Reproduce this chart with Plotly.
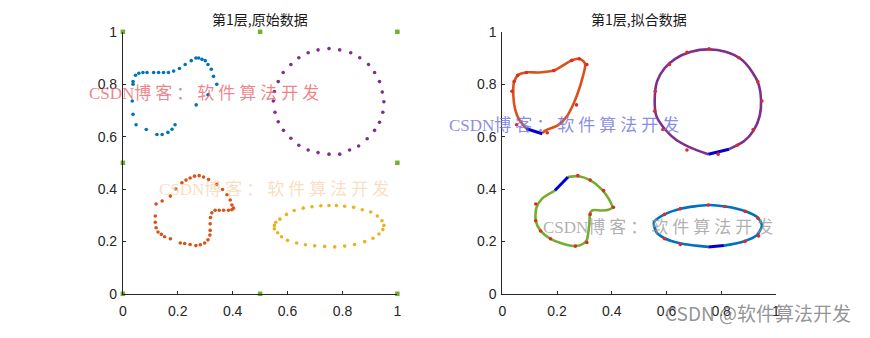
import plotly.graph_objects as go

W, H = 870, 338

# ---------------- data: left panel (raw points) ----------------
blue_x = [0.037, 0.037, 0.034, 0.037, 0.048, 0.085, 0.124, 0.143, 0.164, 0.179, 0.190,
          0.046, 0.058, 0.073, 0.088, 0.112, 0.130, 0.148, 0.166, 0.185, 0.206, 0.227,
          0.249, 0.266, 0.276, 0.288, 0.300, 0.310, 0.322, 0.330, 0.342, 0.310, 0.267]
blue_y = [0.810, 0.800, 0.736, 0.685, 0.645, 0.627, 0.608, 0.608, 0.616, 0.628, 0.645,
          0.834, 0.842, 0.845, 0.845, 0.845, 0.845, 0.845, 0.845, 0.850, 0.860, 0.875,
          0.890, 0.900, 0.900, 0.895, 0.890, 0.875, 0.857, 0.830, 0.800, 0.760, 0.721]

purple_x = [0.751, 0.790, 0.830, 0.863, 0.895, 0.917, 0.935, 0.945, 0.951, 0.947, 0.935,
            0.917, 0.890, 0.859, 0.826, 0.790, 0.751, 0.711, 0.675, 0.641, 0.612, 0.585,
            0.566, 0.554, 0.548, 0.552, 0.566, 0.584, 0.612, 0.641, 0.675, 0.711]
purple_y = [0.936, 0.931, 0.920, 0.901, 0.875, 0.845, 0.810, 0.770, 0.733, 0.693, 0.655,
            0.624, 0.592, 0.564, 0.549, 0.533, 0.533, 0.539, 0.549, 0.567, 0.594, 0.624,
            0.657, 0.693, 0.736, 0.772, 0.810, 0.845, 0.875, 0.901, 0.920, 0.931]

orange_x = [0.215, 0.230, 0.245, 0.261, 0.278, 0.294, 0.312, 0.342, 0.363, 0.379, 0.391,
            0.397, 0.403, 0.397, 0.385, 0.367, 0.351, 0.336, 0.324, 0.319, 0.318, 0.318,
            0.317, 0.310, 0.298, 0.282, 0.266, 0.245, 0.225, 0.209, 0.173, 0.152, 0.140,
            0.128, 0.121, 0.118, 0.118, 0.121, 0.143, 0.173, 0.193]
orange_y = [0.424, 0.434, 0.442, 0.449, 0.451, 0.446, 0.436, 0.418, 0.398, 0.378, 0.358,
            0.339, 0.327, 0.321, 0.319, 0.319, 0.319, 0.319, 0.309, 0.291, 0.267, 0.242,
            0.224, 0.206, 0.194, 0.187, 0.184, 0.188, 0.192, 0.194, 0.210, 0.218, 0.227,
            0.236, 0.252, 0.273, 0.297, 0.343, 0.354, 0.373, 0.400]

yellow_x = [0.552, 0.552, 0.564, 0.578, 0.600, 0.633, 0.665, 0.699, 0.735, 0.772, 0.808,
            0.844, 0.881, 0.911, 0.933, 0.947, 0.951, 0.944, 0.927, 0.903, 0.872, 0.841,
            0.808, 0.778, 0.751, 0.721, 0.689, 0.657, 0.624, 0.596, 0.572, 0.557]
yellow_y = [0.261, 0.248, 0.233, 0.218, 0.204, 0.194, 0.187, 0.183, 0.181, 0.179, 0.182,
            0.188, 0.199, 0.212, 0.228, 0.245, 0.261, 0.279, 0.297, 0.312, 0.321, 0.330,
            0.334, 0.337, 0.337, 0.336, 0.332, 0.327, 0.318, 0.303, 0.285, 0.273]

green_x = [0, 0, 0, 0.5, 0.5, 1, 1, 1]
green_y = [0, 0.5, 1, 0, 1, 0, 0.5, 1]

# ---------------- data: right panel (fitted curves) ----------------
fit_orange_x = [0.088, 0.062, 0.047, 0.040, 0.043, 0.059, 0.086, 0.134, 0.188, 0.219, 0.253,
                0.279, 0.297, 0.303, 0.293, 0.279, 0.261, 0.237, 0.201, 0.158, 0.146]
fit_orange_y = [0.630, 0.664, 0.703, 0.758, 0.810, 0.836, 0.845, 0.845, 0.852, 0.870, 0.891,
                0.897, 0.887, 0.873, 0.824, 0.776, 0.727, 0.679, 0.642, 0.624, 0.614]
gap_orange_x = [0.088, 0.146]
gap_orange_y = [0.630, 0.611]
pts_orange_x = [0.035, 0.043, 0.056, 0.088, 0.188, 0.254, 0.281, 0.309, 0.271, 0.052, 0.164]
pts_orange_y = [0.773, 0.810, 0.834, 0.845, 0.852, 0.891, 0.897, 0.875, 0.721, 0.645, 0.615]

fit_purple_x = [0.829, 0.883, 0.919, 0.941, 0.946, 0.937, 0.913, 0.871, 0.816, 0.756, 0.690,
                0.632, 0.593, 0.566, 0.557, 0.563, 0.593, 0.635, 0.690, 0.753]
fit_purple_y = [0.552, 0.582, 0.624, 0.679, 0.739, 0.800, 0.848, 0.897, 0.924, 0.933, 0.924,
                0.897, 0.861, 0.812, 0.739, 0.679, 0.630, 0.588, 0.557, 0.533]
gap_purple_x = [0.753, 0.829]
gap_purple_y = [0.533, 0.552]
pts_purple_x = [0.611, 0.675, 0.756, 0.865, 0.934, 0.949, 0.917, 0.859, 0.789, 0.675, 0.587,
                0.557, 0.559]
pts_purple_y = [0.875, 0.922, 0.935, 0.901, 0.810, 0.736, 0.627, 0.567, 0.533, 0.549, 0.627,
                0.697, 0.773]

fit_green_x = [0.240, 0.279, 0.321, 0.364, 0.388, 0.402, 0.388, 0.364, 0.330, 0.321, 0.318,
               0.309, 0.297, 0.267, 0.219, 0.176, 0.140, 0.122, 0.124, 0.146, 0.192]
fit_green_y = [0.446, 0.449, 0.434, 0.398, 0.364, 0.330, 0.321, 0.318, 0.319, 0.309, 0.267,
               0.206, 0.192, 0.182, 0.192, 0.210, 0.240, 0.279, 0.327, 0.364, 0.394]
gap_green_x = [0.192, 0.240]
gap_green_y = [0.394, 0.446]
pts_green_x = [0.122, 0.276, 0.321, 0.370, 0.406, 0.321, 0.122, 0.140, 0.176, 0.267, 0.309]
pts_green_y = [0.343, 0.451, 0.434, 0.394, 0.330, 0.303, 0.279, 0.240, 0.210, 0.182, 0.196]

fit_blue_x = [0.810, 0.883, 0.931, 0.949, 0.934, 0.889, 0.816, 0.753, 0.653, 0.593, 0.554,
              0.563, 0.593, 0.653, 0.753]
fit_blue_y = [0.184, 0.200, 0.224, 0.261, 0.291, 0.315, 0.333, 0.339, 0.325, 0.303, 0.273,
              0.236, 0.212, 0.192, 0.179]
gap_blue_x = [0.753, 0.810]
gap_blue_y = [0.179, 0.184]
pts_blue_x = [0.593, 0.651, 0.753, 0.813, 0.887, 0.934, 0.937, 0.887, 0.651, 0.593]
pts_blue_y = [0.303, 0.325, 0.339, 0.333, 0.315, 0.289, 0.221, 0.200, 0.188, 0.210]

tick_vals = [0, 0.2, 0.4, 0.6, 0.8, 1]
tick_text = ["0", "0.2", "0.4", "0.6", "0.8", "1"]

titles = ["第1层,原始数据", "第1层,拟合数据"]
watermark = "CSDN博客：软件算法开发"
footer = "CSDN @软件算法开发"

# ---------------- colours ----------------
C_BLUE = "#0072BD"
C_ORANGE = "#D95319"
C_YELLOW = "#EDB120"
C_PURPLE = "#7E2F8E"
C_GREEN = "#77AC30"
C_RED = "#E02828"
C_GAP = "#0000D0"

fig = go.Figure()


def dots(x, y, color, size=4, ax="x", ay="y", symbol="circle"):
    fig.add_trace(go.Scatter(x=x, y=y, mode="markers", xaxis=ax, yaxis=ay,
                             marker=dict(color=color, size=size, symbol=symbol,
                                         line=dict(width=0)),
                             cliponaxis=False, showlegend=False, hoverinfo="skip"))


def curve(x, y, color, width=2.6, ax="x2", ay="y2", spline=True):
    fig.add_trace(go.Scatter(x=x, y=y, mode="lines", xaxis=ax, yaxis=ay,
                             line=dict(color=color, width=width,
                                       shape="spline" if spline else "linear",
                                       smoothing=0.7),
                             showlegend=False, hoverinfo="skip"))


# left panel
dots(blue_x, blue_y, C_BLUE, 3.6)
dots(orange_x, orange_y, C_ORANGE, 3.6)
dots(yellow_x, yellow_y, C_YELLOW, 3.6)
dots(purple_x, purple_y, C_PURPLE, 3.6)
dots(green_x, green_y, C_GREEN, 4.5, symbol="square")

# right panel
curve(fit_orange_x, fit_orange_y, C_ORANGE)
curve(gap_orange_x, gap_orange_y, C_GAP, 3, spline=False)
curve(fit_purple_x, fit_purple_y, C_PURPLE)
curve(gap_purple_x, gap_purple_y, C_GAP, 3, spline=False)
curve(fit_green_x, fit_green_y, C_GREEN)
curve(gap_green_x, gap_green_y, C_GAP, 3, spline=False)
curve(fit_blue_x, fit_blue_y, C_BLUE)
curve(gap_blue_x, gap_blue_y, C_GAP, 3, spline=False)
for px, py in [(pts_orange_x, pts_orange_y), (pts_purple_x, pts_purple_y),
               (pts_green_x, pts_green_y), (pts_blue_x, pts_blue_y)]:
    dots(px, py, C_RED, 3.6, ax="x2", ay="y2")

axis_common = dict(range=[0, 1], tickvals=tick_vals, ticktext=tick_text,
                   showgrid=False, zeroline=False, showline=True, linecolor="#262626",
                   linewidth=1, ticks="inside", ticklen=3, tickcolor="#262626",
                   tickfont=dict(family="Liberation Sans, Arial", size=14, color="#262626"),
                   fixedrange=True)

ydom = [(338 - 300) / H, (338 - 25) / H]
fig.update_layout(
    width=W, height=H,
    margin=dict(l=0, r=0, t=0, b=0),
    paper_bgcolor="white", plot_bgcolor="white",
    xaxis=dict(domain=[120 / W, 397 / W], anchor="y", ticklabelstandoff=4, **axis_common),
    yaxis=dict(domain=ydom, anchor="x", ticklabelstandoff=2, **axis_common),
    xaxis2=dict(domain=[503 / W, 779 / W], anchor="y2", ticklabelstandoff=4, **axis_common),
    yaxis2=dict(domain=ydom, anchor="x2", ticklabelstandoff=2, **axis_common),
)

ann = []
for cx, t in [(258.5, titles[0]), (641, titles[1])]:
    ann.append(dict(text=t, x=cx / W, y=(H - 12) / H, xref="paper", yref="paper",
                    xanchor="center", yanchor="middle", showarrow=False,
                    font=dict(family="Noto Sans CJK SC", size=14, color="#1a1a1a")))

wm_font = "Liberation Serif, Noto Sans CJK SC"
for lx, cy, col in [(87, 90, "rgba(235,90,100,0.75)"),
                    (157, 190, "rgba(245,200,150,0.6)"),
                    (450, 123, "rgba(110,110,225,0.8)"),
                    (545, 230, "rgba(150,150,150,0.75)")]:
    txt = watermark[:4] + "<span style='letter-spacing:4px'>" + watermark[4:] + "</span>"
    ann.append(dict(text=txt, x=(lx - 3) / W, y=(H - cy) / H, xref="paper", yref="paper",
                    xanchor="left", yanchor="middle", showarrow=False,
                    font=dict(family=wm_font, size=17, color=col)))

ann.append(dict(text=footer, x=857 / W, y=(H - 320) / H, xref="paper", yref="paper",
                xanchor="right", yanchor="middle", showarrow=False,
                font=dict(family="Noto Sans CJK SC", size=19, color="rgba(120,120,120,0.8)")))

fig.update_layout(annotations=ann)
fig.write_html("out.html")
